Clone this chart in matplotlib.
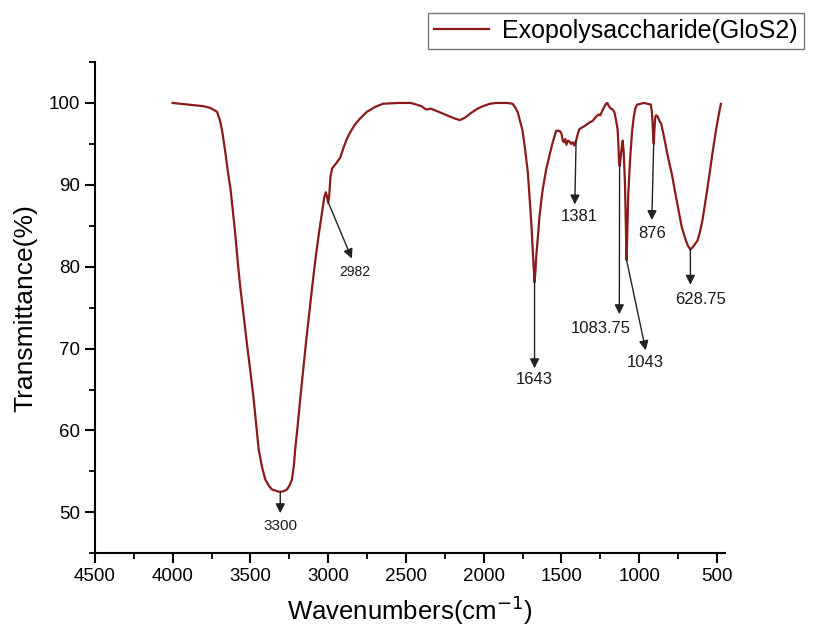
import matplotlib
matplotlib.use("Agg")
import matplotlib.pyplot as plt
from matplotlib.ticker import MultipleLocator

plt.rcParams['font.family'] = ['Liberation Sans', 'DejaVu Sans']

# FTIR spectrum (wavenumber cm-1, transmittance %)
wavenumber = [4000, 3950, 3900, 3850, 3800, 3760, 3740, 3714, 3695, 3681,
              3660, 3645, 3628, 3600, 3580, 3564, 3540, 3520, 3500, 3479,
              3460, 3447, 3425, 3404, 3380, 3361, 3330, 3308, 3285, 3265,
              3248, 3233, 3220, 3212, 3195, 3180, 3160, 3140, 3120, 3100,
              3080, 3060, 3040, 3025, 3015, 3008, 3000, 2994, 2985, 2975,
              2950, 2923, 2900, 2880, 2859, 2830, 2800, 2752, 2700, 2648,
              2550, 2470, 2432, 2400, 2370, 2340, 2300, 2250, 2200, 2154,
              2120, 2080, 2040, 2006, 1960, 1919, 1850, 1814, 1795, 1780,
              1769, 1750, 1735, 1716, 1705, 1694, 1684, 1673, 1667, 1662,
              1650, 1641, 1630, 1620, 1598, 1577, 1556, 1534, 1513, 1500,
              1492, 1484, 1476, 1468, 1458, 1449, 1438, 1428, 1418, 1406,
              1395, 1385, 1350, 1321, 1300, 1278, 1260, 1250, 1236, 1225,
              1214, 1205, 1195, 1182, 1170, 1160, 1150, 1139, 1134, 1130,
              1125, 1120, 1113, 1106, 1100, 1092, 1086, 1081, 1077, 1070,
              1058, 1046, 1035, 1024, 1013, 970, 925, 918, 914, 909,
              906, 903, 897, 891, 880, 870, 859, 840, 814, 790,
              769, 750, 726, 700, 685, 671, 655, 640, 625, 610,
              593, 570, 549, 528, 506, 490, 475]
transmittance = [100.0, 99.9, 99.8, 99.7, 99.6, 99.4, 99.2, 98.9, 97.8, 96.5,
                 93.8, 91.6, 89.5, 84.5, 80.3, 77.3, 73.5, 70.2, 67.2, 63.8,
                 60.2, 57.7, 55.5, 54.0, 53.2, 52.8, 52.6, 52.5, 52.6, 52.8,
                 53.3, 54.0, 55.8, 57.7, 60.8, 63.8, 67.5, 71.2, 74.6, 78.0,
                 81.2, 84.0, 86.6, 88.5, 89.1, 88.6, 87.8, 88.5, 91.0, 92.0,
                 92.6, 93.3, 94.6, 95.6, 96.4, 97.3, 98.0, 98.9, 99.5, 99.9,
                 100.0, 100.0, 99.8, 99.6, 99.2, 99.3, 99.0, 98.6, 98.2, 97.9,
                 98.2, 98.8, 99.3, 99.6, 99.9, 100.0, 100.0, 99.9, 99.4, 98.8,
                 98.0, 96.6, 94.5, 91.5, 88.5, 85.4, 81.8, 78.1, 79.5, 81.3,
                 84.0, 86.2, 88.0, 89.5, 91.9, 93.6, 95.2, 96.6, 96.6, 96.3,
                 95.4, 95.2, 95.6, 94.9, 95.4, 95.3, 95.0, 95.2, 94.8, 95.4,
                 96.2, 96.8, 97.2, 97.6, 97.8, 98.3, 98.6, 98.5, 99.1, 99.5,
                 99.9, 100.0, 99.6, 99.3, 99.2, 98.9, 98.0, 96.8, 95.0, 92.8,
                 92.3, 93.2, 94.5, 95.4, 94.0, 90.5, 85.0, 80.8, 84.0, 89.0,
                 93.3, 96.5, 98.3, 99.4, 99.8, 100.0, 99.8, 98.8, 97.5, 95.5,
                 95.0, 96.5, 98.2, 98.5, 98.3, 97.8, 97.5, 95.8, 93.3, 91.3,
                 89.1, 87.2, 84.8, 83.2, 82.5, 82.1, 82.4, 82.8, 83.2, 84.2,
                 85.7, 88.5, 91.2, 94.0, 96.7, 98.4, 99.9]

# peak labels and where their arrows start on the curve
peak_labels = ['3300', '2982', '1643', '1381', '1083.75', '1043', '876', '628.75']
peak_x = [3308, 2998, 1673, 1406, 1126, 1081, 907, 671]
peak_y = [52.5, 87.8, 78.1, 95.4, 92.4, 80.8, 95.0, 82.1]
head_x = [3308, 2848, 1673, 1414, 1128, 958, 919, 671]
head_y = [49.9, 81.0, 67.6, 87.6, 74.2, 69.8, 85.7, 77.8]
text_x = [3308, 2827, 1673, 1385, 1246, 958, 915, 605]
text_y = [48.3, 79.4, 66.2, 86.1, 72.5, 68.3, 84.1, 76.0]
text_size = [11, 10, 12, 12, 12, 12, 12, 12]

fig = plt.figure(figsize=(8.18, 6.36), dpi=100)
ax = fig.add_axes([0.116, 0.130, 0.770, 0.7725])

line, = ax.plot(wavenumber, transmittance, color='#8b1a1a', lw=1.6,
                label='Exopolysaccharide(GloS2)')

for lab, px, py, hx, hy, tx, ty, fs in zip(peak_labels, peak_x, peak_y, head_x,
                                           head_y, text_x, text_y, text_size):
    ax.annotate('', xy=(hx, hy), xytext=(px, py),
                arrowprops=dict(arrowstyle='-|>', color='#222222', lw=1.0,
                                mutation_scale=14, shrinkA=0, shrinkB=0))
    ax.text(tx, ty, lab, ha='center', va='center', fontsize=fs, color='#1a1a1a')

ax.set_xlim(4500, 450)
ax.set_ylim(45, 105)
ax.xaxis.set_major_locator(MultipleLocator(500))
ax.xaxis.set_minor_locator(MultipleLocator(250))
ax.yaxis.set_major_locator(MultipleLocator(10))
ax.yaxis.set_minor_locator(MultipleLocator(5))
ax.set_yticks([50, 60, 70, 80, 90, 100])
ax.spines['top'].set_visible(False)
ax.spines['right'].set_visible(False)
for s in ['left', 'bottom']:
    ax.spines[s].set_linewidth(1.5)
ax.tick_params(which='major', direction='out', length=7, width=1.5, labelsize=13.5)
ax.tick_params(which='minor', direction='out', length=4, width=1.3)

ax.set_xlabel('Wavenumbers(cm$^{-1}$)', fontsize=18.5, labelpad=6)
ax.set_ylabel('Transmittance(%)', fontsize=19, labelpad=8)

leg = fig.legend(handles=[line], loc='upper right', bbox_to_anchor=(0.998, 1.0),
                 fontsize=18, frameon=True, fancybox=False, handlelength=2.2,
                 borderpad=0.25, handletextpad=0.5)
leg.get_frame().set_edgecolor('#555555')
leg.get_frame().set_linewidth(1.0)

fig.savefig('out.png', dpi=100)
